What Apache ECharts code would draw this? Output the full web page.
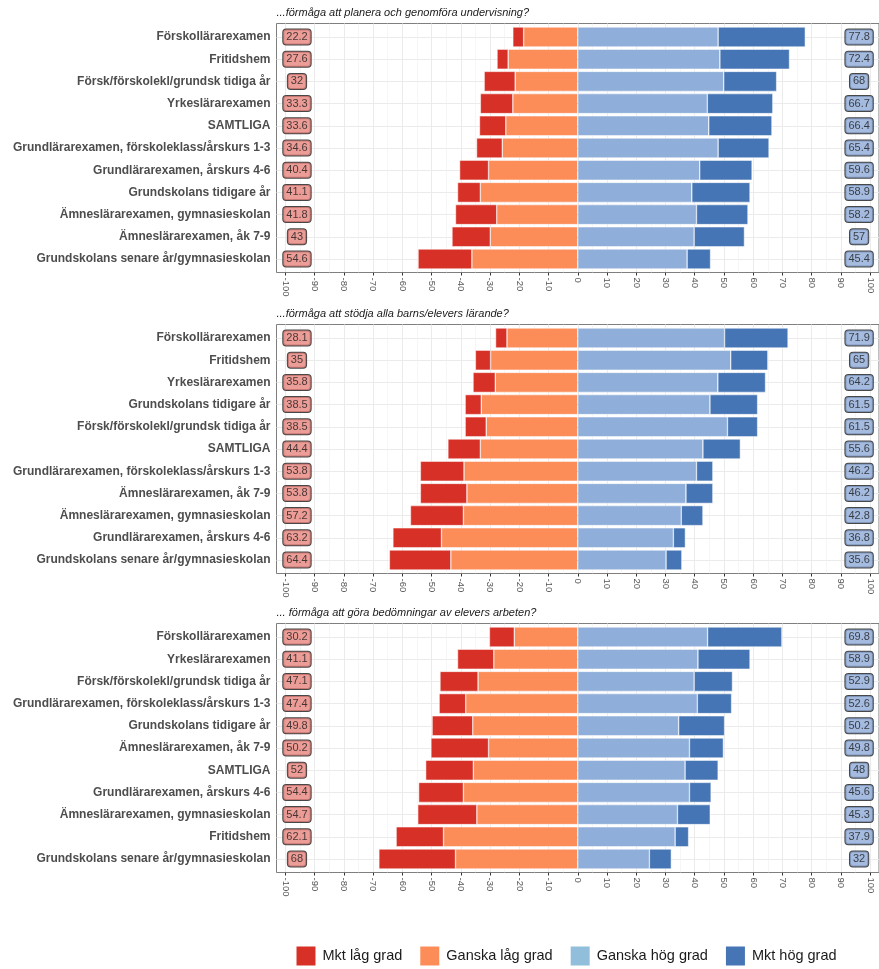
<!DOCTYPE html>
<html>
<head>
<meta charset="utf-8">
<script src="https://cdn.jsdelivr.net/npm/echarts@6/dist/echarts.min.js"></script>
<style>
html,body{margin:0;padding:0;background:#fff;}
#chart{width:879px;height:969px;}
</style>
</head>
<body>
<div id="chart"></div>
<script>
// ---------- DATA ----------
const seriesNames = ['Mkt låg grad', 'Ganska låg grad', 'Ganska hög grad', 'Mkt hög grad'];
const xTicks = [-100, -90, -80, -70, -60, -50, -40, -30, -20, -10, 0, 10, 20, 30, 40, 50, 60, 70, 80, 90, 100];
const xMinorTicks = [-95, -85, -75, -65, -55, -45, -35, -25, -15, -5, 5, 15, 25, 35, 45, 55, 65, 75, 85, 95];

const title1 = '...förmåga att planera och genomföra undervisning?';
const cats1 = ['Förskollärarexamen', 'Fritidshem', 'Försk/förskolekl/grundsk tidiga år', 'Yrkeslärarexamen', 'SAMTLIGA',
  'Grundlärarexamen, förskoleklass/årskurs 1-3', 'Grundlärarexamen, årskurs 4-6', 'Grundskolans tidigare år',
  'Ämneslärarexamen, gymnasieskolan', 'Ämneslärarexamen, åk 7-9', 'Grundskolans senare år/gymnasieskolan'];
const mktLag1    = [3.7, 3.8, 10.6, 11.1, 9.0, 8.8, 9.9, 7.8, 14.1, 13.1, 18.4];
const ganskaLag1 = [18.5, 23.8, 21.4, 22.2, 24.6, 25.8, 30.5, 33.3, 27.7, 29.9, 36.2];
const ganskaHog1 = [48.0, 48.6, 49.9, 44.3, 44.8, 48.0, 41.7, 39.0, 40.6, 39.8, 37.4];
const mktHog1    = [29.8, 23.8, 18.1, 22.4, 21.6, 17.4, 17.9, 19.9, 17.6, 17.2, 8.0];

const title2 = '...förmåga att stödja alla barns/elevers lärande?';
const cats2 = ['Förskollärarexamen', 'Fritidshem', 'Yrkeslärarexamen', 'Grundskolans tidigare år',
  'Försk/förskolekl/grundsk tidiga år', 'SAMTLIGA', 'Grundlärarexamen, förskoleklass/årskurs 1-3',
  'Ämneslärarexamen, åk 7-9', 'Ämneslärarexamen, gymnasieskolan', 'Grundlärarexamen, årskurs 4-6',
  'Grundskolans senare år/gymnasieskolan'];
const mktLag2    = [3.9, 5.2, 7.6, 5.5, 7.2, 11.1, 14.9, 15.9, 18.1, 16.6, 21.0];
const ganskaLag2 = [24.2, 29.8, 28.2, 33.0, 31.3, 33.3, 38.9, 37.9, 39.1, 46.6, 43.4];
const ganskaHog2 = [50.2, 52.3, 47.9, 45.2, 51.2, 42.8, 40.6, 37.0, 35.4, 32.7, 30.2];
const mktHog2    = [21.7, 12.7, 16.3, 16.3, 10.3, 12.8, 5.6, 9.2, 7.4, 4.1, 5.4];

const title3 = '... förmåga att göra bedömningar av elevers arbeten?';
const cats3 = ['Förskollärarexamen', 'Yrkeslärarexamen', 'Försk/förskolekl/grundsk tidiga år',
  'Grundlärarexamen, förskoleklass/årskurs 1-3', 'Grundskolans tidigare år', 'Ämneslärarexamen, åk 7-9',
  'SAMTLIGA', 'Grundlärarexamen, årskurs 4-6', 'Ämneslärarexamen, gymnasieskolan', 'Fritidshem',
  'Grundskolans senare år/gymnasieskolan'];
const mktLag3    = [8.5, 12.4, 13.0, 9.1, 13.9, 19.7, 16.3, 15.3, 20.2, 16.2, 26.2];
const ganskaLag3 = [21.7, 28.7, 34.1, 38.3, 35.9, 30.5, 35.7, 39.1, 34.5, 45.9, 41.8];
const ganskaHog3 = [44.4, 41.1, 39.8, 40.9, 34.5, 38.2, 36.7, 38.2, 34.1, 33.3, 24.5];
const mktHog3    = [25.4, 17.8, 13.1, 11.7, 15.7, 11.6, 11.3, 7.4, 11.2, 4.6, 7.5];

// ---------- STYLE ----------
const FONT = "'Liberation Sans', Arial, sans-serif";
const barColors = ['#D73027', '#FC8D59', '#8FAEDA', '#4575B4'];
const legendColors = ['#D73027', '#FC8D59', '#91BFDB', '#4575B4'];
const panels = [
  {title: title1, cats: cats1, vals: [mktLag1, ganskaLag1, ganskaHog1, mktHog1], off: 0},
  {title: title2, cats: cats2, vals: [mktLag2, ganskaLag2, ganskaHog2, mktHog2], off: 301},
  {title: title3, cats: cats3, vals: [mktLag3, ganskaLag3, ganskaHog3, mktHog3], off: 600}
];

const GL = 276.5, GW = 602.5, XMIN = -103, XMAX = 103;
const grids = [], xAxes = [], yAxes = [], series = [], titles = [];

panels.forEach((p, i) => {
  const o = p.off;
  titles.push({
    text: p.title, left: GL, top: o + 7.5, padding: 0,
    textStyle: {fontFamily: FONT, fontSize: 11, fontStyle: 'italic', fontWeight: 'normal', color: '#1a1a1a'}
  });
  // grid A: full panel box
  grids.push({left: GL, width: GW, top: o + 23.5, height: 249, show: true,
    borderColor: '#7f7f7f', borderWidth: 1, backgroundColor: 'transparent'});
  // grid B: category centers
  grids.push({left: GL, width: GW, top: o + 37, height: 222});
  const gA = 2 * i, gB = 2 * i + 1;
  xAxes.push({
    type: 'value', gridIndex: gA, min: XMIN, max: XMAX, position: 'bottom',
    axisLine: {show: false},
    axisTick: {show: true, length: 3, lineStyle: {color: '#333'}, customValues: xTicks},
    axisLabel: {show: true, rotate: -90, margin: 5, fontFamily: FONT, fontSize: 9.5, color: '#555',
      customValues: xTicks},
    splitLine: {show: true, lineStyle: {color: '#EBEBEB', width: 1}}
  });
  xAxes.push({
    type: 'value', gridIndex: gA, min: XMIN, max: XMAX, position: 'top',
    axisLine: {show: false},
    axisTick: {show: false, customValues: xMinorTicks},
    axisLabel: {show: false, customValues: xMinorTicks},
    splitLine: {show: true, lineStyle: {color: '#F0F0F0', width: 0.6}}
  });
  const xB = xAxes.length;
  xAxes.push({
    type: 'value', gridIndex: gB, min: XMIN, max: XMAX, show: false,
    splitLine: {show: false}
  });
  yAxes.push({type: 'value', gridIndex: gA, min: 0, max: 1, show: false, splitLine: {show: false}});
  const yB = yAxes.length;
  yAxes.push({
    type: 'category', gridIndex: gB, data: p.cats, inverse: true, boundaryGap: false,
    axisLine: {show: false},
    axisTick: {show: true, length: 3, lineStyle: {color: '#333'}},
    axisLabel: {fontFamily: FONT, fontSize: 12, fontWeight: 'bold', color: '#4D4D4D', margin: 6},
    splitLine: {show: true, lineStyle: {color: '#EBEBEB', width: 1}}
  });
  // bars: inner segments first so stacking grows outward
  const order = [1, 0, 2, 3];
  order.forEach(k => {
    const sign = k < 2 ? -1 : 1;
    series.push({
      type: 'bar', name: seriesNames[k], stack: 'panel' + i,
      xAxisIndex: xB, yAxisIndex: yB, barWidth: 20,
      itemStyle: {color: barColors[k], borderColor: '#ffffff', borderWidth: 0.5},
      data: p.vals[k].map(v => sign * v),
      z: 3
    });
  });
  const lowTot = p.vals[0].map((v, j) => Math.round((v + p.vals[1][j]) * 10) / 10);
  const highTot = p.vals[2].map((v, j) => Math.round((v + p.vals[3][j]) * 10) / 10);
  const lblStyle = (bg) => ({
    show: true, position: 'inside', fontFamily: FONT, fontSize: 11, color: '#1a1a1a',
    backgroundColor: bg, borderColor: '#1a1a1a', borderWidth: 1, borderRadius: 3,
    padding: [2, 3, 1, 3], lineHeight: 12,
    formatter: (prm) => String(prm.data.t)
  });
  series.push({
    type: 'scatter', xAxisIndex: xB, yAxisIndex: yB, symbol: 'rect', symbolSize: 1,
    itemStyle: {color: 'rgba(0,0,0,0)'}, silent: true, z: 5,
    label: lblStyle('#E8857D'),
    data: lowTot.map((t, j) => ({value: [-96, j], t: t}))
  });
  series.push({
    type: 'scatter', xAxisIndex: xB, yAxisIndex: yB, symbol: 'rect', symbolSize: 1,
    itemStyle: {color: 'rgba(0,0,0,0)'}, silent: true, z: 5,
    label: lblStyle('#8FABD8'),
    data: highTot.map((t, j) => ({value: [96.2, j], t: t}))
  });
});

const chart = echarts.init(document.getElementById('chart'), null, {renderer: 'canvas'});
chart.setOption({
  animation: false,
  backgroundColor: '#ffffff',
  title: titles,
  legend: {
    left: 296.5, top: 946.5, padding: 0, icon: 'rect', itemWidth: 19, itemHeight: 19, itemGap: 18,
    textStyle: {fontFamily: FONT, fontSize: 14.5, color: '#1a1a1a', padding: [0, 0, 0, 2]},
    data: seriesNames.map((n, k) => ({name: n, itemStyle: {color: legendColors[k], borderWidth: 0}}))
  },
  grid: grids,
  xAxis: xAxes,
  yAxis: yAxes,
  series: series
});
</script>
</body>
</html>
